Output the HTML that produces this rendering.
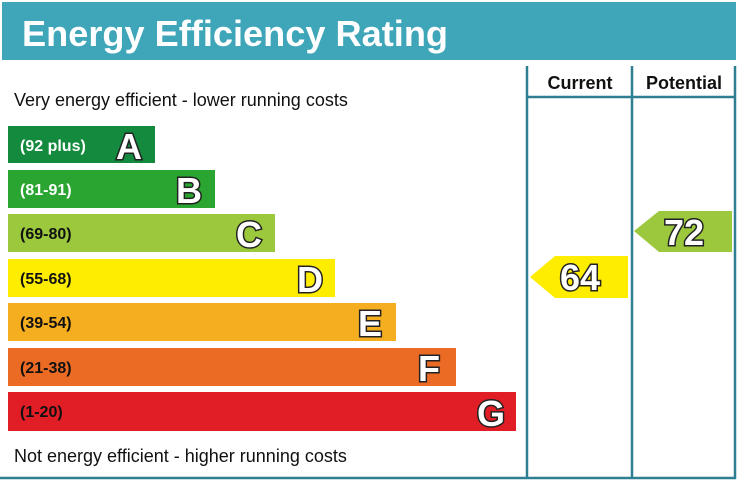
<!DOCTYPE html>
<html><head><style>body{margin:0;background:#fff}</style></head><body>
<svg width="738" height="483" xmlns="http://www.w3.org/2000/svg" font-family="Liberation Sans, sans-serif">
<rect x="2" y="2" width="734" height="58" fill="#3fa6b9"/>
<text x="22" y="46" font-size="36" font-weight="bold" fill="#fff" textLength="426" lengthAdjust="spacingAndGlyphs">Energy Efficiency Rating</text>
<g stroke="#2e7f92" stroke-width="2.5" fill="none">
<line x1="527" y1="66" x2="527" y2="479"/>
<line x1="632" y1="66" x2="632" y2="479"/>
<line x1="735" y1="66" x2="735" y2="479"/>
<line x1="527" y1="97" x2="735" y2="97"/>
<line x1="0" y1="478" x2="736" y2="478"/>
</g>
<text x="580" y="89" font-size="18" font-weight="bold" text-anchor="middle" fill="#111">Current</text>
<text x="684" y="89" font-size="18" font-weight="bold" text-anchor="middle" fill="#111">Potential</text>
<text x="14" y="106" font-size="18" fill="#111">Very energy efficient - lower running costs</text>
<text x="14" y="462" font-size="18" fill="#111">Not energy efficient - higher running costs</text>
<g font-weight="bold">
<rect x="8" y="126" width="147" height="37" fill="#138a3e"/>
<rect x="8" y="170" width="207" height="38" fill="#2aa532"/>
<rect x="8" y="214" width="267" height="38" fill="#9bc83c"/>
<rect x="8" y="259" width="327" height="38" fill="#ffed00"/>
<rect x="8" y="303" width="388" height="38" fill="#f6ae21"/>
<rect x="8" y="348" width="448" height="38" fill="#ec6b24"/>
<rect x="8" y="392" width="508" height="39" fill="#e11e25"/>
<g font-size="16">
<text x="20" y="151" fill="#fff">(92 plus)</text>
<text x="20" y="195" fill="#fff">(81-91)</text>
<text x="20" y="239" fill="#111">(69-80)</text>
<text x="20" y="284" fill="#111">(55-68)</text>
<text x="20" y="328" fill="#111">(39-54)</text>
<text x="20" y="373" fill="#111">(21-38)</text>
<text x="20" y="417" fill="#111">(1-20)</text>
</g>
<g font-size="36" fill="#fff" stroke="#222" stroke-width="3" paint-order="stroke" text-anchor="middle">
<text x="129" y="159">A</text>
<text x="189" y="203">B</text>
<text x="249" y="247">C</text>
<text x="310" y="292">D</text>
<text x="370" y="336">E</text>
<text x="429" y="381">F</text>
<text x="491" y="426">G</text>
</g>
<polygon points="530,277 555,256 628,256 628,298 555,298" fill="#ffed00"/>
<polygon points="634,231 659,211 732,211 732,252 659,252" fill="#9bc83c"/>
<g font-size="36" fill="#fff" stroke="#222" stroke-width="3" paint-order="stroke" text-anchor="middle">
<text x="580" y="290">64</text>
<text x="684" y="245">72</text>
</g>
</g>
</svg>
</body></html>
